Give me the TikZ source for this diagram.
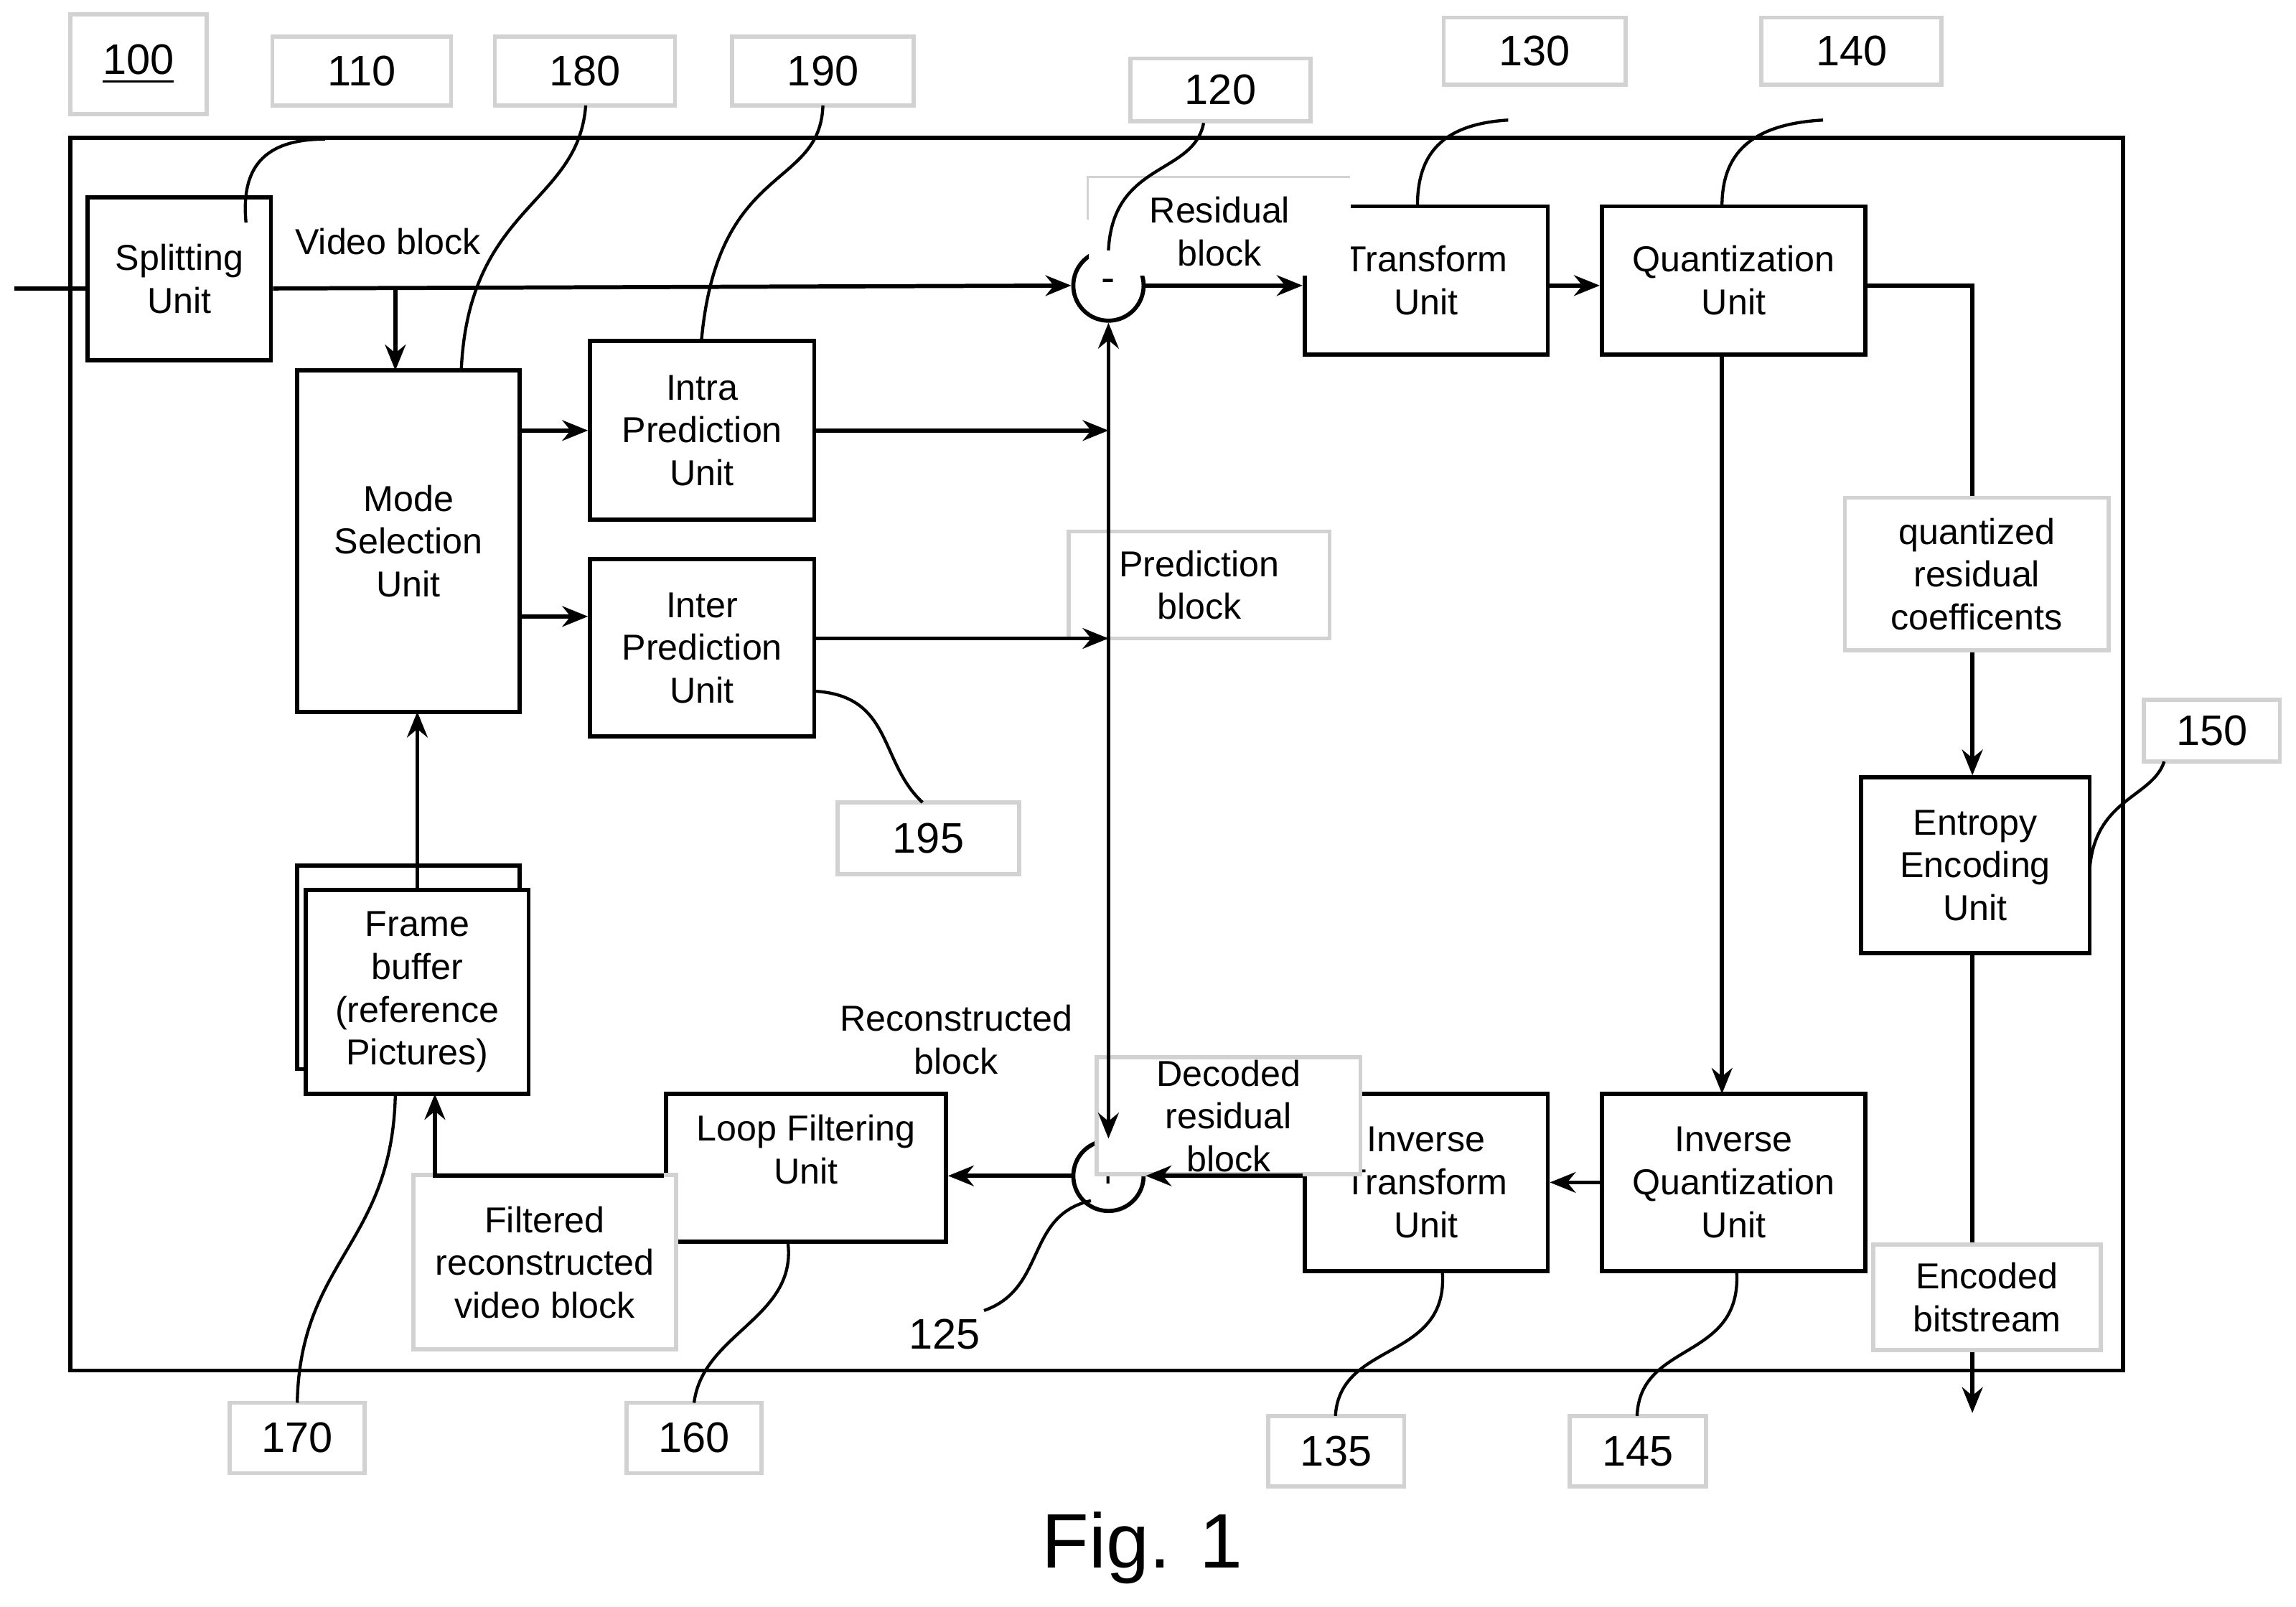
\documentclass[tikz,border=0pt]{standalone}
\usepackage{fontspec}
\setmainfont{Liberation Sans}
\usetikzlibrary{arrows.meta}

\begin{document}
\begin{tikzpicture}[x=0.01cm,y=-0.01cm,
    box/.style={draw, thick, align=center, font=\fontsize{7}{8.3}\selectfont, inner sep=0pt},
    lbl/.style={draw=gray!35, fill=white, align=center, font=\fontsize{7}{8.3}\selectfont, inner sep=0pt},
    num/.style={draw=gray!35, fill=white, font=\fontsize{8.3}{10}\selectfont, inner sep=0pt},
    circ/.style={draw, thick, circle, minimum size=0.48cm, inner sep=0pt, font=\fontsize{8}{9}\selectfont},
    >={Stealth[length=5pt,width=4pt]}, thick]
    \useasboundingbox (0,0) rectangle (1568,1097);
    \draw (48,94) rectangle (1450,936);

    % units
    \node[box, minimum width=1.25cm, minimum height=1.11cm] (split) at (122.5,190.5) {Splitting\\Unit};
    \node[box, minimum width=1.52cm, minimum height=2.33cm] (mode) at (279,369.5) {Mode\\Selection\\Unit};
    \node[box, minimum width=1.53cm, minimum height=1.22cm] (intra) at (479.5,294) {Intra\\Prediction\\Unit};
    \node[box, minimum width=1.53cm, minimum height=1.21cm] (inter) at (479.5,442.5) {Inter\\Prediction\\Unit};
    \node[box, minimum width=1.66cm, minimum height=1.01cm] (trans) at (974,191.5) {Transform\\Unit};
    \node[box, minimum width=1.80cm, minimum height=1.01cm] (quant) at (1184,191.5) {Quantization\\Unit};
    \node[box, minimum width=1.56cm, minimum height=1.20cm] (entropy) at (1349,591) {Entropy\\Encoding\\Unit};
    \node[box, minimum width=1.80cm, minimum height=1.21cm] (iquant) at (1184,807.5) {Inverse\\Quantization\\Unit};
    \node[box, minimum width=1.66cm, minimum height=1.21cm] (itrans) at (974,807.5) {Inverse\\Transform\\Unit};
    \node[box, minimum width=1.91cm, minimum height=1.01cm, text depth=0.25cm] (loop) at (550.5,797.5) {Loop Filtering\\Unit};
    \node[box, minimum width=1.52cm, minimum height=1.39cm] (fback) at (279,660.5) {};
    \node[box, fill=white, minimum width=1.52cm, minimum height=1.39cm] (frame) at (285,677.5) {Frame\\buffer\\(reference\\Pictures)};
    \node[circ] (sub) at (757,195) {-};
    \node[circ] (add) at (757,803) {+};

    % labels
    \node[font=\fontsize{7}{8.3}\selectfont] (vblk) at (265,165) {Video block};
    \node[lbl, draw=none, minimum width=1.79cm, minimum height=0.6cm] (res) at (833,158) {Residual\\block};
    \draw[gray!35, thin] (743,150) -- (743,121) -- (922,121);
    \node[lbl, minimum width=1.78cm, minimum height=0.73cm] (pred) at (819,399.5) {Prediction\\block};
    \node[lbl, minimum width=1.80cm, minimum height=1.04cm] (qrc) at (1350,392) {quantized\\residual\\coefficents};
    \node[lbl, minimum width=1.55cm, minimum height=0.72cm] (enc) at (1357,886) {Encoded\\bitstream};
    \node[lbl, minimum width=1.80cm, minimum height=0.8cm] (dec) at (839,762) {Decoded\\residual\\block};
    \node[font=\fontsize{7}{8.3}\selectfont, align=center] (rec) at (653,710) {Reconstructed\\block};
    \node[lbl, minimum width=1.79cm, minimum height=1.19cm] (filt) at (372,862) {Filtered\\reconstructed\\video block};

    % connectors
    \coordinate (in) at (10,197);
    \draw (in) -- (split.west |- in);
    \draw[->] (split.east |- in) -- (sub.west);
    \draw[->] (270,196) -- (270,253);
    \draw[->] (mode.east |- intra) -- (intra.west);
    \draw[->] (mode.east |- 0,421) -- (inter.west |- 0,421);
    \draw[->] (intra.east) -- (intra.east -| sub);
    \draw[->] (inter.east |- 0,436) -- (sub |- 0,436);
    \draw[<->] (sub.south) -- (add.north);
    \draw[->] (sub.east) -- (trans.west |- sub);
    \draw[->] (trans.east |- sub) -- (quant.west |- sub);
    \draw (quant.east |- sub) -- (1347,195) -- (qrc.north -| 1347,0);
    \draw[->] (qrc.south -| 1347,0) -- (entropy.north -| 1347,0);
    \draw (entropy.south -| 1347,0) -- (enc.north -| 1347,0);
    \coordinate (out) at (1347,965);
    \draw[->] (enc.south -| out) -- (out);
    \draw[->] (1176,242) -- (1176,747);
    \draw[->] (iquant.west) -- (itrans.east);
    \draw[->] (itrans.west |- add) -- (add.east);
    \draw[->] (add.west) -- (loop.east |- add);
    \draw[->] (loop.west |- add) -- (297,803) -- (297,747);
    \draw[->] (285,608) -- (285,486);

    % reference numbers
    \node[num, minimum width=0.93cm, minimum height=0.68cm] (n100) at (94.5,44) {\underline{100}};
    \node[num, minimum width=1.22cm, minimum height=0.47cm] (n110) at (247,48.5) {110};
    \node[num, minimum width=1.23cm, minimum height=0.47cm] (n180) at (399.5,48.5) {180};
    \node[num, minimum width=1.24cm, minimum height=0.47cm] (n190) at (562,48.5) {190};
    \node[num, minimum width=1.23cm, minimum height=0.43cm] (n120) at (833.5,61.5) {120};
    \node[num, minimum width=1.24cm, minimum height=0.46cm] (n130) at (1048,35) {130};
    \node[num, minimum width=1.23cm, minimum height=0.46cm] (n140) at (1264.5,35) {140};
    \node[num, minimum width=0.93cm, minimum height=0.42cm] (n150) at (1510.5,499) {150};
    \node[num, minimum width=1.24cm, minimum height=0.49cm] (n195) at (634,572.5) {195};
    \node[font=\fontsize{8.3}{10}\selectfont] (n125) at (645,911) {125};
    \node[num, minimum width=0.92cm, minimum height=0.48cm] (n170) at (203,982) {170};
    \node[num, minimum width=0.92cm, minimum height=0.48cm] (n160) at (474,982) {160};
    \node[num, minimum width=0.93cm, minimum height=0.48cm] (n135) at (912.5,991) {135};
    \node[num, minimum width=0.93cm, minimum height=0.48cm] (n145) at (1118.5,991) {145};
    \node[font=\fontsize{15}{18}\selectfont] (fig) at (780,1057) {Fig. 1};

    % leaders
    \draw[semithick] (222,95) .. controls (175,95) and (165,120) .. (168,152);
    \draw[semithick] (400,72) .. controls (395,140) and (320,140) .. (315,253);
    \draw[semithick] (562,72) .. controls (560,130) and (490,110) .. (479,233);
    \draw[semithick] (822,84) .. controls (815,120) and (760,110) .. (757,171);
    \draw[semithick] (1030,82) .. controls (980,85) and (968,110) .. (968,141);
    \draw[semithick] (1245,82) .. controls (1190,85) and (1176,110) .. (1176,141);
    \draw[semithick] (1478,520) .. controls (1470,545) and (1430,545) .. (1427,595);
    \draw[semithick] (556,472) .. controls (610,475) and (600,520) .. (630,548);
    \draw[semithick] (745,820) .. controls (700,830) and (715,880) .. (672,895);
    \draw[semithick] (270,747) .. controls (268,850) and (205,860) .. (203,958);
    \draw[semithick] (538,848) .. controls (545,900) and (480,910) .. (474,958);
    \draw[semithick] (985,868) .. controls (990,930) and (915,915) .. (912,967);
    \draw[semithick] (1186,868) .. controls (1190,930) and (1120,915) .. (1118,967);
\end{tikzpicture}
\end{document}
